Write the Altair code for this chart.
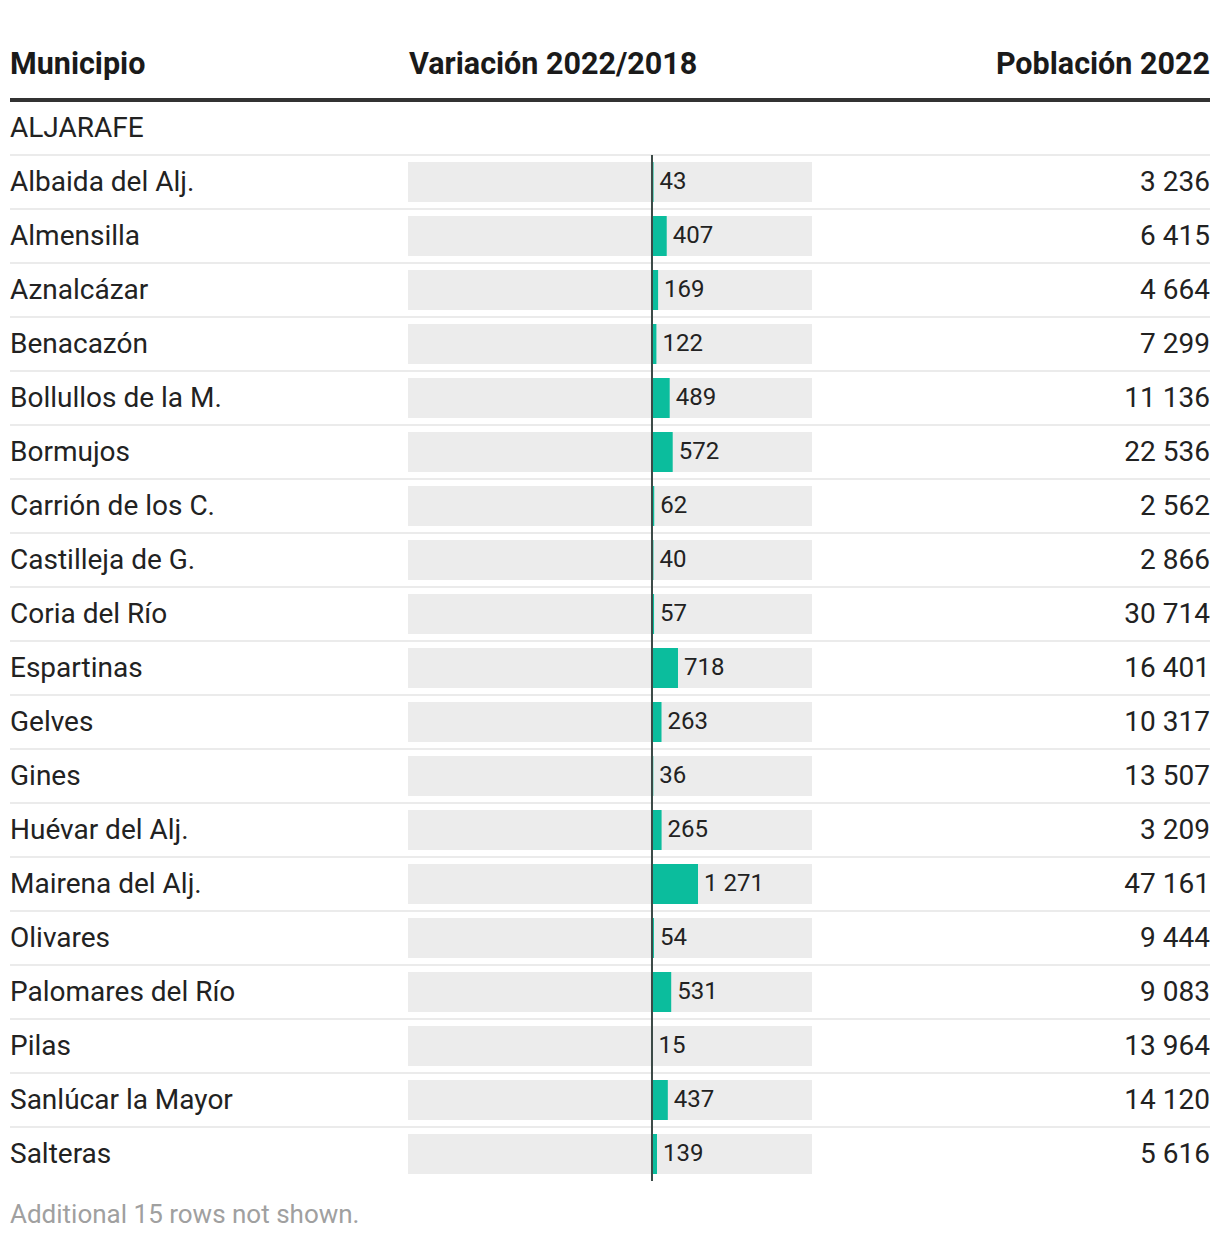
import altair as alt
import pandas as pd

names = ["Albaida del Alj.", "Almensilla", "Aznalcázar", "Benacazón", "Bollullos de la M.",
         "Bormujos", "Carrión de los C.", "Castilleja de G.", "Coria del Río", "Espartinas",
         "Gelves", "Gines", "Huévar del Alj.", "Mairena del Alj.", "Olivares",
         "Palomares del Río", "Pilas", "Sanlúcar la Mayor", "Salteras"]
variacion = [43, 407, 169, 122, 489, 572, 62, 40, 57, 718, 263, 36, 265, 1271, 54, 531, 15, 437, 139]
poblacion = [3236, 6415, 4664, 7299, 11136, 22536, 2562, 2866, 30714, 16401, 10317, 13507, 3209,
             47161, 9444, 9083, 13964, 14120, 5616]
group_label = "ALJARAFE"
headers = ["Municipio", "Variación 2022/2018", "Población 2022"]
footer = "Additional 15 rows not shown."
x_domain = [-6740, 4420]

def fmt(v):
    return f"{v:,}".replace(",", " ")

df = pd.DataFrame({
    "name": names,
    "var": variacion,
    "pop": poblacion,
})
df["row"] = range(len(df))
df["y0"] = df["row"] - 0.37
df["y1"] = df["row"] + 0.37
df["sep"] = df["row"] - 0.5
df["zero"] = 0
df["lo"] = x_domain[0]
df["hi"] = x_domain[1]
df["var_txt"] = df["var"].map(fmt)
df["pop_txt"] = df["pop"].map(fmt)

FONT = "Roboto"
xs = alt.Scale(domain=x_domain, range=[400, 804])
ys = alt.Scale(domain=[0, len(names) - 1], range=[174, 174 + 54 * (len(names) - 1)])

base = alt.Chart(df)

seps = base.mark_rule(color="#ebebeb", strokeWidth=2).encode(
    x=alt.value(2), x2=alt.value(1202),
    y=alt.Y("sep:Q", scale=ys, axis=None),
)

bg = base.mark_rect(color="#ececec").encode(
    x=alt.X("lo:Q", scale=xs, axis=None), x2="hi:Q",
    y=alt.Y("y0:Q", scale=ys, axis=None), y2="y1:Q",
)

bars = base.mark_rect(color="#0bbd9d").encode(
    x=alt.X("zero:Q", scale=xs, axis=None), x2="var:Q",
    y=alt.Y("y0:Q", scale=ys, axis=None), y2="y1:Q",
)

zero_df = pd.DataFrame({"z": [0], "a": [-0.5], "b": [len(names) - 0.5]})
zero_rule = alt.Chart(zero_df).mark_rule(color="#3c4a47", strokeWidth=2).encode(
    x=alt.X("z:Q", scale=xs, axis=None),
    y=alt.Y("a:Q", scale=ys, axis=None), y2="b:Q",
)

name_txt = base.mark_text(align="left", baseline="middle", font=FONT, fontSize=28, color="#222222", dy=1).encode(
    x=alt.value(2), y=alt.Y("row:Q", scale=ys, axis=None), text="name:N",
)

var_txt = base.mark_text(align="left", baseline="middle", font=FONT, fontSize=24, color="#222222", dx=6, dy=0).encode(
    x=alt.X("var:Q", scale=xs, axis=None), y=alt.Y("row:Q", scale=ys, axis=None), text="var_txt:N",
)

pop_txt = base.mark_text(align="right", baseline="middle", font=FONT, fontSize=28, color="#222222", dy=1).encode(
    x=alt.value(1202), y=alt.Y("row:Q", scale=ys, axis=None), text="pop_txt:N",
)

hdr_df = pd.DataFrame({"t": headers, "x": [2, 401, 1202], "al": ["left", "left", "right"]})
hdr_layers = []
for i, h in enumerate(headers):
    hdr_layers.append(
        alt.Chart(pd.DataFrame({"t": [h]})).mark_text(
            align=hdr_df["al"][i], baseline="middle", font=FONT, fontSize=30.5, fontWeight="bold", color="#1a1a1a"
        ).encode(x=alt.value(int(hdr_df["x"][i])), y=alt.value(57), text="t:N")
    )

hdr_line = alt.Chart(pd.DataFrame({"a": [0]})).mark_rule(color="#333333", strokeWidth=4).encode(
    x=alt.value(2), x2=alt.value(1202), y=alt.value(92)
)

grp = alt.Chart(pd.DataFrame({"t": [group_label]})).mark_text(
    align="left", baseline="middle", font=FONT, fontSize=28, color="#222222"
).encode(x=alt.value(2), y=alt.value(121), text="t:N")

foot = alt.Chart(pd.DataFrame({"t": [footer]})).mark_text(
    align="left", baseline="middle", font=FONT, fontSize=26, color="#a0a0a0"
).encode(x=alt.value(2), y=alt.value(1207), text="t:N")

chart = alt.layer(
    seps, bg, bars, zero_rule, name_txt, var_txt, pop_txt, *hdr_layers, hdr_line, grp, foot
).properties(
    width=1204, height=1224, padding=0, autosize=alt.AutoSizeParams(type="none")
).configure_view(stroke=None)

chart.save("out.html", embed_options={"renderer": "svg", "actions": False})
